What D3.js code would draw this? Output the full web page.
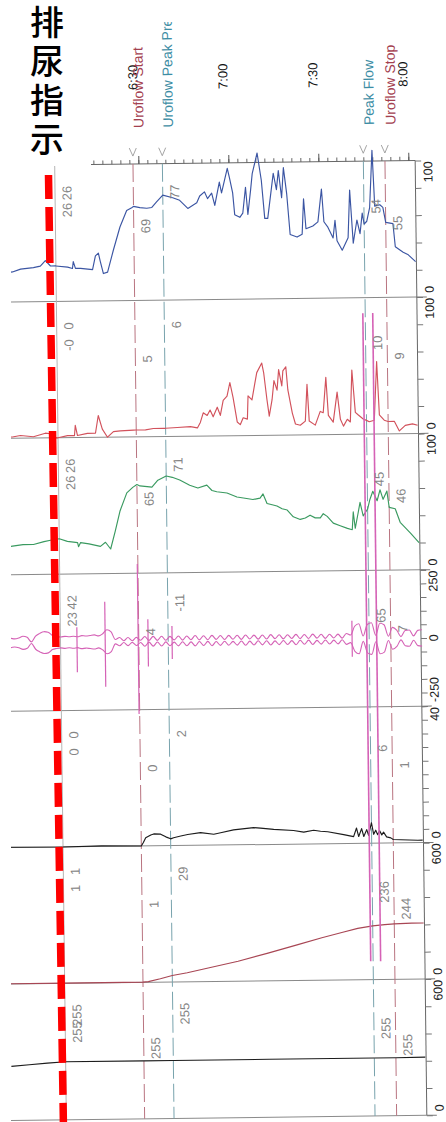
<!DOCTYPE html>
<html>
<head>
<meta charset="utf-8">
<script src="https://cdn.jsdelivr.net/npm/d3@7"></script>
<style>
  html, body { margin: 0; padding: 0; background: #fff; }
  svg { display: block; }
</style>
</head>
<body>
<svg id="chart" width="446" height="1122"></svg>
<script>
// ---------- time axis (seconds) ----------
const timeLabelSecs = [390, 420, 450, 480];
const eventNames = ["Uroflow Start", "Uroflow Peak Pressure", "Peak Flow", "Uroflow Stop"];
const eventTimes = [388.2, 398.0, 465.0, 472.2];
const cursorTime = 362.1;

// ---------- channel scales ----------
const channelMin  = [0, 0, 0, -250, 0, 0, 0];
const channelMax  = [100, 100, 100, 250, 40, 600, 600];
const channelStep = [20, 20, 20, 50, 4, 120, 120];

// ---------- readouts at cursor pair and events (per channel) ----------
const readCursorA = ["26", "0", "26", "42", "0", "1", "255"];
const readCursorB = ["26", "-0", "26", "23", "0", "1", "255"];
const readStart   = ["69", "5", "65", "4", "0", "1", "255"];
const readPeak    = ["77", "6", "71", "-11", "2", "29", "255"];
const readPF      = ["54", "10", "45", "65", "6", "236", "255"];
const readStop    = ["55", "9", "46", "7", "1", "244", "255"];

// ---------- traces: [time s, value] ----------
const pves = [[344,21],[347.6,22],[350.3,24],[354.6,25],[356.9,26],[358.6,30],[360.3,26],[362.1,26],[366,25],[367.6,24],[367.9,29],[368.6,24],[370.3,24],[374.3,23],[375.3,33],[376.3,35],[376.9,29],[377.9,20],[379.3,21],[381.3,37],[383.6,54],[385.9,66],[387.6,68],[388.2,69],[390.3,68],[392.6,67.5],[394.3,68],[395.9,72],[398,77],[401.3,75],[403.6,73],[406.3,67],[409.3,71],[410.3,76],[411.9,79],[412.9,74],[414.3,78],[415.3,69],[416.9,86],[417.6,78],[419.6,96],[420.3,89],[421.3,78],[421.9,62],[423.6,60],[424.6,63],[425.6,82],[426.3,62],[427.3,80],[427.9,92],[429.6,107],[430.9,87],[431.9,59],[432.9,59],[434.3,82],[434.9,92],[435.9,80],[436.6,94],[437.6,74],[438.3,96],[439.3,77],[440.3,47],[442.6,45],[444.3,47],[444.9,73],[445.6,51],[447.9,53],[449.6,56],[450.9,80],[451.6,56],[452.9,52],[454.6,44],[455.3,57],[455.9,42],[457.6,35],[459.6,44],[460.3,79],[461.3,40],[462.6,57],[463.6,47],[464.4,62],[465,54],[465.9,56],[466.9,66],[467.9,108],[468.6,67],[470.3,68],[471.3,66],[472.2,55],[474.6,54],[475.3,37],[477.9,33],[479.6,31],[482,26]];

const pabd = [[344,1],[346.9,1],[349.6,2],[353.9,1],[357.9,3.5],[359.6,3],[361.3,0],[362.1,0],[365.3,1.5],[367.6,1.5],[367.9,9],[368.6,1.5],[371.9,3],[374.6,3],[375.6,16],[376.9,6],[378.6,0],[380.6,4],[382.9,4.5],[387.3,5],[388.2,5],[391.3,5],[393.9,6],[397.3,6],[398,6],[401.9,6.5],[406.3,7],[408.6,6],[409.6,10],[410.6,17],[411.9,15],[412.9,19],[413.9,14],[415.3,21],[416.3,15],[417.3,26],[418.6,29],[419.6,39],[420.6,28],[421.9,10],[422.9,8],[423.9,13],[425.3,12],[425.6,29],[426.9,26],[427.9,38],[428.6,46],[430.3,53],[430.9,46],[431.9,26],[432.6,14],[433.6,26],[434.3,40],[435.3,33],[435.9,48],[436.9,36],[437.3,47],[438.3,50],[438.9,33],[440.3,16],[441.3,8],[442.9,7],[444.6,10],[445.3,37],[445.9,10],[447.9,7],[449.6,17],[450.6,16],[451.6,42],[452.3,14],[453.9,9],[455.3,31],[456.3,11],[457.3,6],[458.6,11],[459.6,9],[460.3,47],[461.3,16],[462.3,14],[463.9,11],[465,10],[465.9,9],[467.6,10],[468.6,53],[469.3,14],[470.9,10],[472.2,9],[474.3,9],[475.9,2],[477.9,6],[480.3,7],[482,6]];

const pdet = [[344,20],[346.5,21],[350,22],[353.5,22],[357,24],[359.2,25],[362.1,26],[364.8,24],[368.2,23],[368.5,20],[369.2,23],[372,22],[375.8,20],[377.5,23],[379.2,18],[380.8,31],[382.5,46],[384.8,59],[386.8,63],[388.2,65],[389.2,64],[393.2,63],[395.2,68],[398,71],[400,70],[402.5,68],[405.8,64],[408.5,62],[411.5,64],[413.2,60],[414.8,59],[418.2,58],[421.5,55],[424.2,54],[426.8,53],[429.2,54],[430.2,57],[431.5,50],[433.2,49],[434.8,48],[436.5,46],[438.2,45],[440.2,40],[442.5,38],[444.2,39],[445.8,41],[447.5,39],[449.2,39],[450.2,42],[451.5,40],[453.5,35],[455.8,33],[458.2,31],[459.8,30],[460.2,43],[460.8,31],[461.8,42],[462.5,50],[463.5,40],[465,45],[465.8,52],[466.8,58],[468.2,51],[469.2,59],[470.2,52],[471.5,58],[472.2,46],[474.2,45],[475.8,35],[479.2,27],[482,20]];

const flow = [[344,0.1],[362.1,0],[375,0.2],[388.2,0],[388.9,1],[389.7,2.4],[391.4,3.2],[392.4,3.5],[394.7,3.4],[396.4,2.6],[398,2],[399,2.3],[401.4,2.8],[403.7,3.2],[408,3.7],[412.4,3.2],[414.7,3.6],[419,4.4],[425.7,5],[428,4.8],[432.4,4.4],[439,4],[442.4,3.5],[445.7,4],[448,3.7],[450.4,3.5],[455.7,2.6],[459,2],[460,4.5],[460.7,2],[461.7,4.3],[462.4,2],[463.4,4],[464,2.3],[465,6],[465.7,2.6],[466.4,3.8],[467,2.5],[467.7,3.6],[468.4,2.4],[469,3.2],[470,1.8],[471.4,1.5],[472.2,1],[474.7,0.9],[480.4,0.7],[482,0.7]];

const voided = [[344,1],[362.1,1],[388.2,1],[390,3],[394,15],[398,29],[403,40],[410,60],[420,88],[430,122],[440,158],[448,187],[455,210],[460,226],[465,236],[469,241],[472.2,244],[478,246],[482,246]];

const infused = [[344,238],[350,244],[356,250],[362.1,255],[388.2,255],[398,255],[430,255],[465,255],[472.2,255],[482,256]];

// EMG envelope, sampled every 1.4 s from 344 s
const emgT0 = 344, emgDt = 1.4;
const emgAmp = [
  16, 17, 15, 18, 24, 20, 3, 24, 34, 40,
  38, 26, 22, 20, 22, 20, 22, 20, 24, 22,
  24, 26, 22, 30, 44, 36, 8, 15, 3, 15,
  3, 15, 4, 18, 3, 18, 3, 18, 3, 17,
  4, 18, 3, 18, 4, 19, 3, 18, 3, 19,
  4, 18, 3, 18, 4, 18, 3, 19, 4, 18,
  3, 18, 3, 19, 4, 18, 3, 18, 4, 19,
  3, 18, 3, 19, 4, 18, 3, 18, 4, 18,
  3, 20, 14, 46, 55, 10, 52, 58, 12, 56,
  50, 8, 40, 30, 6, 28, 30, 8, 28, 30
];
// EMG spikes: time, positive peak, negative peak
const emgSpikeT  = [367.6, 377.0, 388.0, 391.3, 399.3, 459.3, 464.2, 467.5];
const emgSpikeHi = [55, 147, 284, 81, 55, 66, 1193, 1193];
const emgSpikeLo = [-110, -165, -266, -92, -66, -66, -1183, -1183];

// ---------- drawing ----------
const W = 446, H = 1122;
const FONT = "'Liberation Sans', Arial, Helvetica, sans-serif";
const svg = d3.select("#chart");

const top0 = 163, panelH = 136.4, axisX = 421, nPanels = 7;
const bottom = top0 + nPanels * panelH;
const x = d3.scaleLinear().domain([390, 480]).range([144.2, 414.2]);
const tMin = 344;

const traceColor = ["#3b55a3", "#d2525c", "#3a9a60", "#d562b6", "#1c1c1c", "#a84654", "#1c1c1c"];
const startStopColor = "#a3404f", peakColor = "#3d8da4";
const lineColorStartStop = "#b97480", lineColorPeak = "#78a3ad";

svg.append("defs").append("clipPath").attr("id", "crop")
  .append("rect").attr("x", 11).attr("y", 22).attr("width", W - 11).attr("height", H - 22);

const root = svg.append("g").attr("clip-path", "url(#crop)");
// the printed sheet sits very slightly askew
const g = root.append("g").attr("transform", "rotate(-0.7 223 640)");

function rtext(parent, px, py, str, o) {
  return parent.append("text")
    .attr("transform", `translate(${px},${py}) rotate(-90)`)
    .attr("text-anchor", o.anchor || "start")
    .attr("font-family", FONT)
    .attr("font-size", o.size || 13)
    .attr("fill", o.color || "#000")
    .text(str);
}

const yScales = d3.range(nPanels).map(i => {
  const t = top0 + i * panelH;
  return d3.scaleLinear().domain([channelMin[i], channelMax[i]]).range([t + panelH, t]);
});

// panel separators
const sep = g.append("g").attr("stroke", "#8a8a8a").attr("stroke-width", 1);
d3.range(1, nPanels + 1).forEach(i => {
  const yy = top0 + i * panelH;
  sep.append("line").attr("x1", 0).attr("x2", axisX).attr("y1", yy).attr("y2", yy);
});

// time axis along top
g.append("line").attr("x1", x(tMin)).attr("x2", axisX).attr("y1", top0).attr("y2", top0)
  .attr("stroke", "#666").attr("stroke-width", 1);
const minorTicks = d3.range(348, 482, 3);
const tMinor = g.append("g").attr("transform", `translate(0,${top0})`)
  .call(d3.axisTop(x).tickValues(minorTicks).tickSize(4).tickFormat(""));
tMinor.select(".domain").remove();
tMinor.selectAll("line").attr("stroke", "#666");
const tMajor = g.append("g").attr("transform", `translate(0,${top0})`)
  .call(d3.axisTop(x).tickValues(timeLabelSecs).tickSize(8).tickFormat(""));
tMajor.select(".domain").remove();
tMajor.selectAll("line").attr("stroke", "#555");

const fmtTime = s => `${Math.floor(s / 60)}:${String(Math.round(s % 60)).padStart(2, "0")}`;
timeLabelSecs.forEach(s => rtext(g, x(s), 89, fmtTime(s), { size: 13, color: "#111" }));

// right value axes
g.append("line").attr("x1", axisX).attr("x2", axisX).attr("y1", top0).attr("y2", bottom)
  .attr("stroke", "#666");
yScales.forEach((y, i) => {
  const ax = g.append("g").attr("transform", `translate(${axisX},0)`)
    .call(d3.axisRight(y)
      .tickValues(d3.range(channelMin[i], channelMax[i] + channelStep[i] / 2, channelStep[i]))
      .tickSize(6).tickFormat(""));
  ax.select(".domain").remove();
  ax.selectAll("line").attr("stroke", "#777");
  const t = top0 + i * panelH, b = t + panelH;
  g.append("line").attr("x1", axisX).attr("x2", axisX + 10).attr("y1", b).attr("y2", b).attr("stroke", "#777");
  rtext(g, axisX + 17, t + 1, String(channelMax[i]), { anchor: "end", size: 12.5, color: "#222" });
  rtext(g, axisX + 17, b - 4, String(channelMin[i]), { anchor: "start", size: 12.5, color: "#222" });
  if (channelMin[i] < 0) rtext(g, axisX + 17, y(0), "0", { anchor: "middle", size: 12.5, color: "#222" });
});

// cursor line
g.append("line").attr("x1", x(cursorTime)).attr("x2", x(cursorTime)).attr("y1", top0).attr("y2", bottom)
  .attr("stroke", "#b5b5b5").attr("stroke-width", 1);

// event lines, markers and titles
eventTimes.forEach((t, k) => {
  const isPeak = (k === 1 || k === 2);
  const xx = x(t);
  g.append("line").attr("x1", xx).attr("x2", xx).attr("y1", top0).attr("y2", bottom)
    .attr("stroke", isPeak ? lineColorPeak : lineColorStartStop)
    .attr("stroke-width", 1).attr("stroke-dasharray", "18,5");
  g.append("path").attr("d", `M${xx - 3.5},147 L${xx},155 L${xx + 3.5},147`)
    .attr("fill", "none").attr("stroke", "#9a9a9a").attr("stroke-width", 0.9);
  rtext(g, xx + 11, 127, eventNames[k], { size: 14, color: isPeak ? peakColor : startStopColor });
});

// traces
const traces = [pves, pabd, pdet, null, flow, voided, infused];
traces.forEach((data, i) => {
  if (!data) return;
  const y = yScales[i];
  g.append("path").datum(data)
    .attr("fill", "none").attr("stroke", traceColor[i]).attr("stroke-width", 1.15)
    .attr("stroke-linejoin", "round")
    .attr("d", d3.line().x(d => x(d[0])).y(d => y(d[1])));
});

// EMG: envelope pair plus spikes
const yE = yScales[3];
const emgPts = emgAmp.map((a, j) => [emgT0 + j * emgDt, a]);
[1, -1].forEach(sgn => {
  g.append("path").datum(emgPts)
    .attr("fill", "none").attr("stroke", traceColor[3]).attr("stroke-width", 1.1)
    .attr("d", d3.line().curve(d3.curveMonotoneX).x(d => x(d[0])).y(d => yE(sgn * d[1])));
});
emgSpikeT.forEach((t, j) => {
  g.append("line").attr("x1", x(t)).attr("x2", x(t))
    .attr("y1", yE(emgSpikeHi[j])).attr("y2", yE(emgSpikeLo[j]))
    .attr("stroke", traceColor[3]).attr("stroke-width", j >= 6 ? 1.6 : 1.2);
});

// readouts beside cursor and event lines
const rowY = r => 21 + r * 17;
yScales.forEach((y, i) => {
  const t = top0 + i * panelH;
  const items = [
    [cursorTime, readCursorA[i], 0], [cursorTime, readCursorB[i], 1],
    [eventTimes[0], readStart[i], 2], [eventTimes[1], readPeak[i], 0],
    [eventTimes[2], readPF[i], 1], [eventTimes[3], readStop[i], 2]
  ];
  items.forEach(([tt, s, r]) => rtext(g, x(tt) + 16.5, t + rowY(r), s, { anchor: "end", size: 13, color: "#858585" }));
});

// annotation: white label box, red dashed indicator and vertical caption
svg.append("rect").attr("x", 0).attr("y", 0).attr("width", 91).attr("height", 166).attr("fill", "#fff");
svg.append("line").attr("x1", 48.5).attr("y1", 175).attr("x2", 63.5).attr("y2", 1130)
  .attr("stroke", "#ff0000").attr("stroke-width", 7.5).attr("stroke-dasharray", "24,8");
svg.append("text")
  .attr("x", 47).attr("y", 5)
  .attr("writing-mode", "vertical-rl")
  .style("writing-mode", "vertical-rl")
  .style("text-orientation", "upright")
  .attr("font-family", "'Noto Sans CJK SC', 'Noto Sans CJK JP', sans-serif")
  .attr("font-size", 34).attr("font-weight", 500).attr("letter-spacing", 5)
  .attr("fill", "#000")
  .text("排尿指示");
</script>
</body>
</html>
